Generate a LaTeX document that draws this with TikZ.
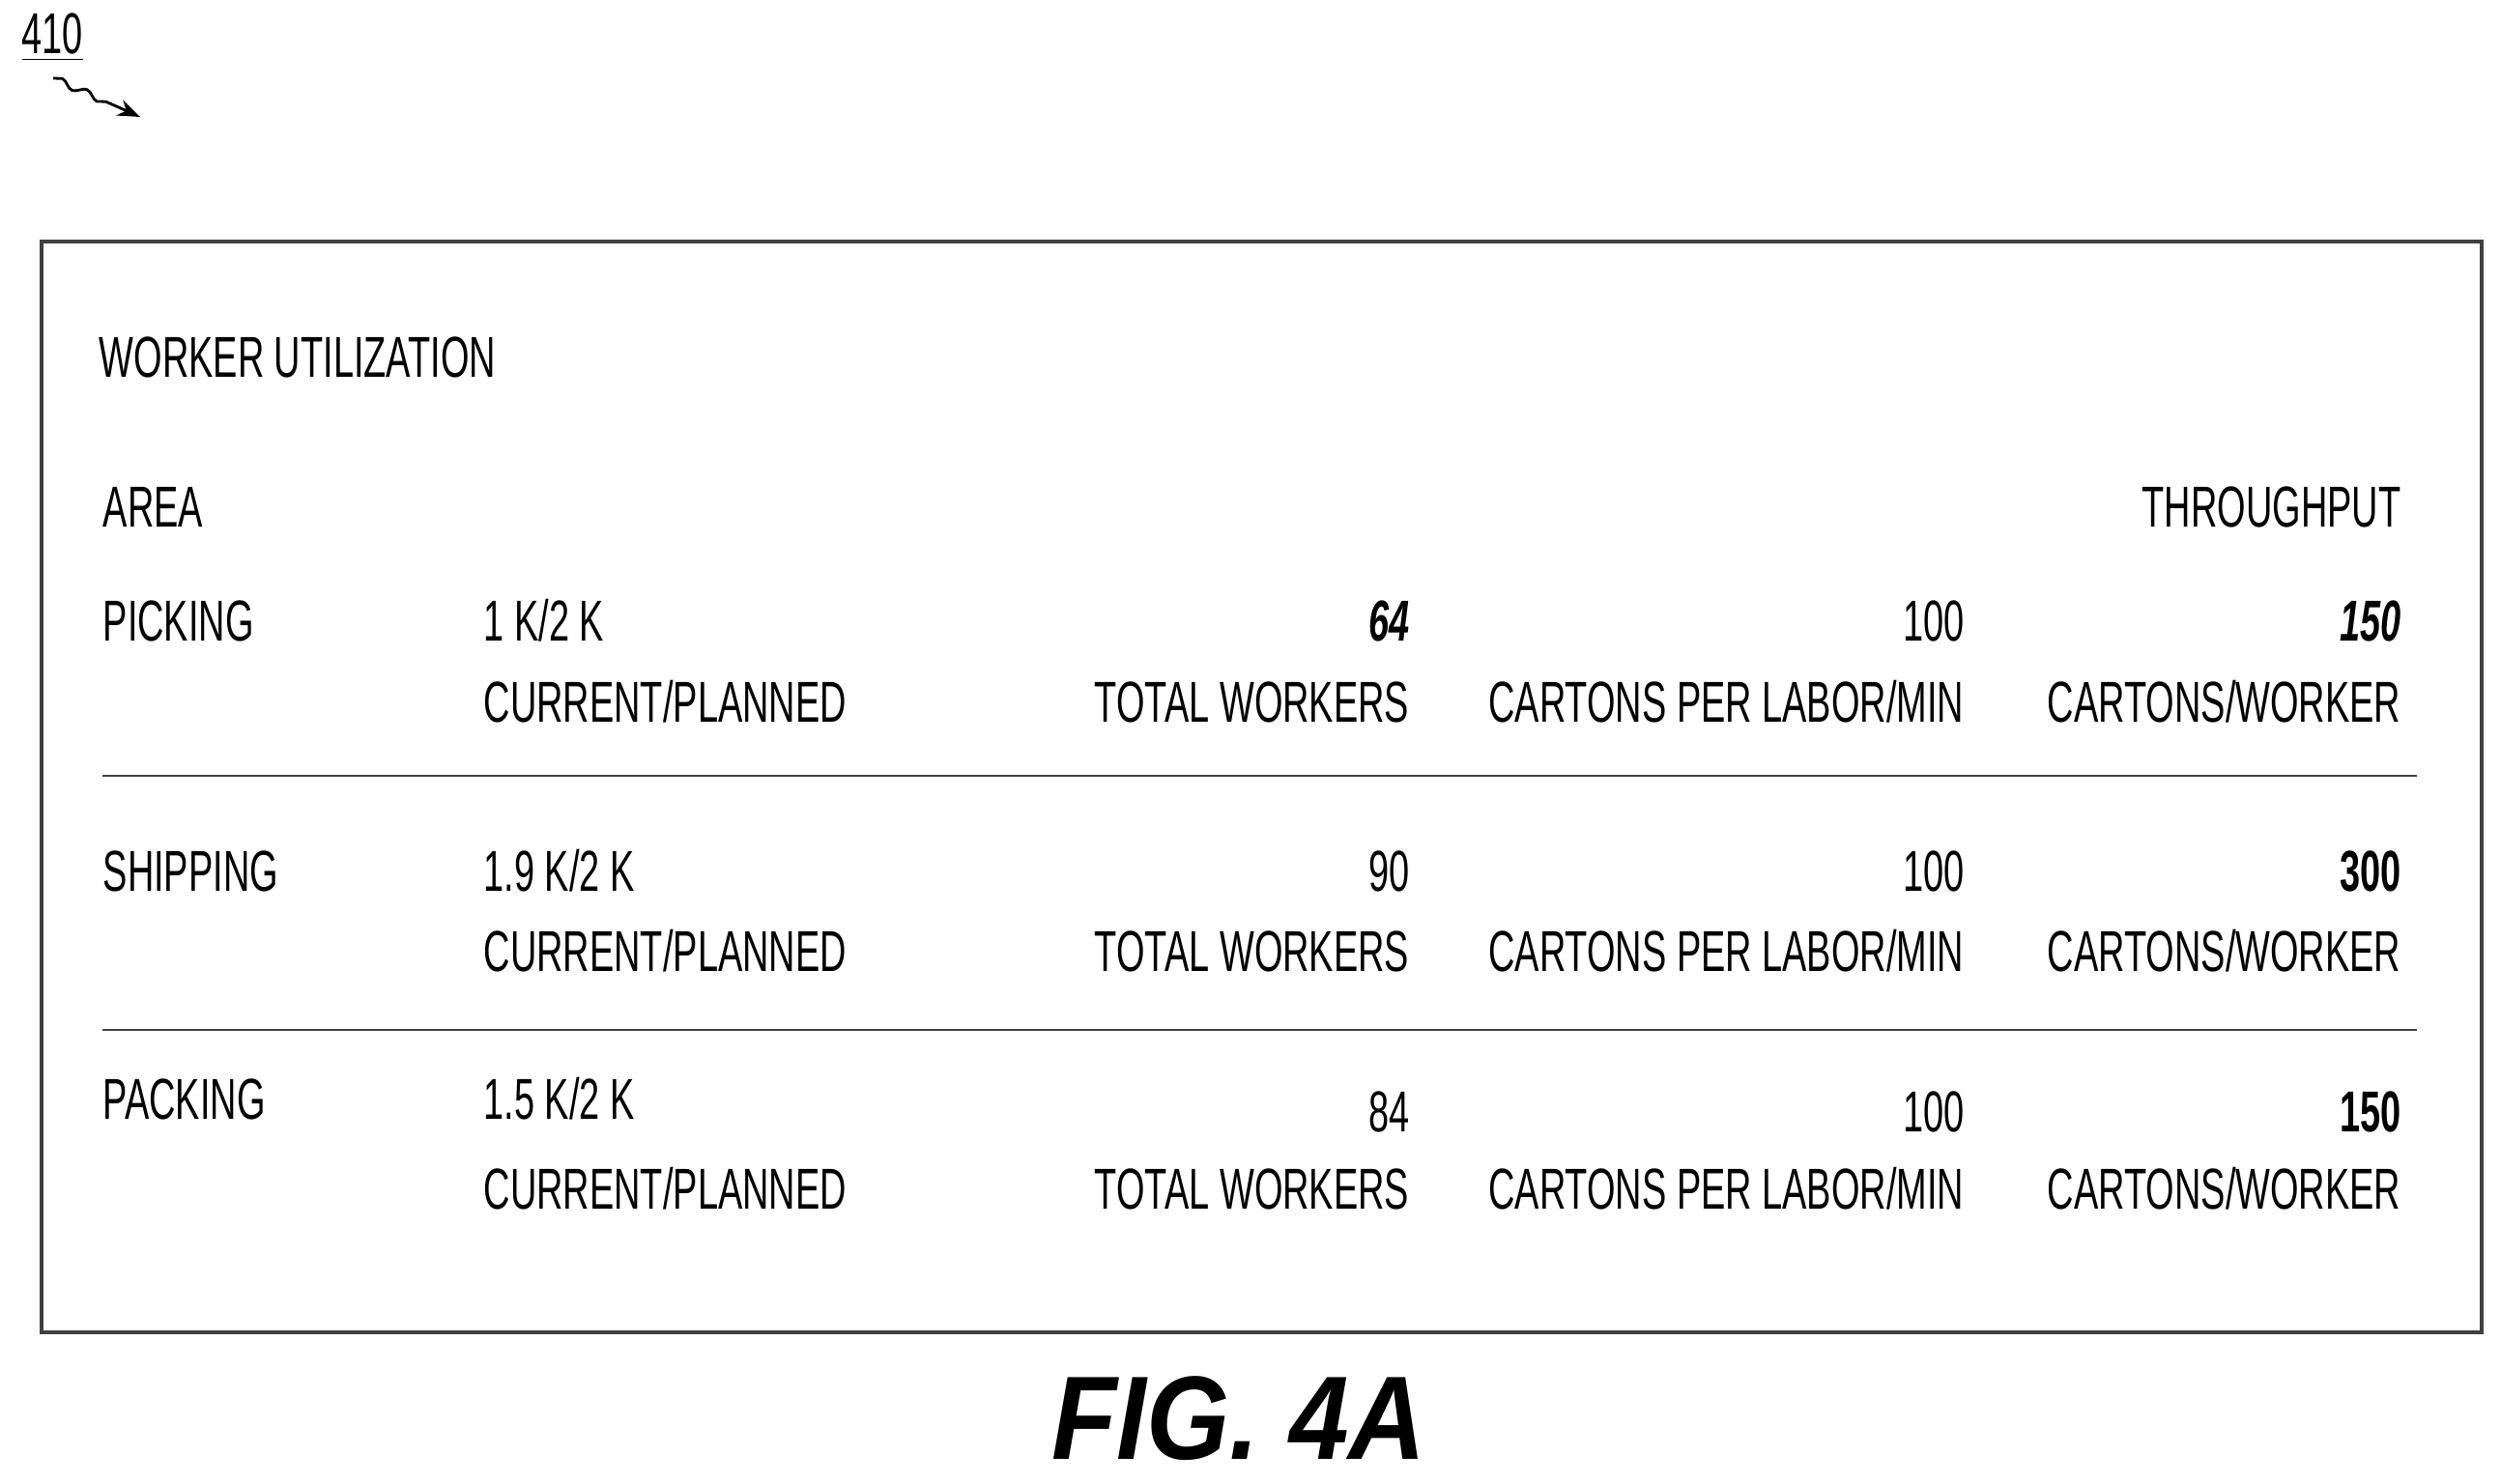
\documentclass[tikz,border=0pt]{standalone}
\usepackage{fontspec}
\setmainfont{Liberation Sans}[FakeStretch=0.635]
\newfontfamily\figfont{Liberation Sans}[FakeStretch=0.9]
\usetikzlibrary{positioning, decorations.pathmorphing, arrows.meta}
\tikzstyle{txt} = [inner sep=0pt, font=\fontsize{17}{20}\selectfont, anchor=base west]
\tikzstyle{num} = [inner sep=0pt, font=\fontsize{17}{20}\selectfont, anchor=base east]
\tikzstyle{rule} = [line width=0.8pt, draw=black!75]
\begin{document}
\begin{tikzpicture}
    \useasboundingbox (0,0) rectangle (25.88,15.36);
    \node (ref) [txt] at (0.22,14.8) {\underline{410}};
    \coordinate (tip) at (1.45,14.15);
    \draw [thick, ->, >=Stealth, decorate, decoration={snake, amplitude=1pt, segment length=8pt, post length=3mm}] (0.55,14.55) -- (tip);
    \node (frame) [draw=black!75, line width=1pt, minimum width=25.25cm, minimum height=11.29cm, anchor=south west] at (0.41,1.55) {};
    \node (title) [txt] at (1.02,11.45) {WORKER UTILIZATION};
    \node (area) [txt] at (1.06,9.9) {AREA};
    \node (thru) [num] at (24.85,9.9) {THROUGHPUT};
    % rows
    \foreach \nm/\cur/\tot/\cpw/\ya/\yb/\yc in {PICKING/{1 K/2 K}/{\textbf{\textit{64}}}/{\textbf{\textit{150}}}/8.72/8.72/7.88,
        SHIPPING/{1.9 K/2 K}/90/{\textbf{300}}/6.13/6.13/5.30,
        PACKING/{1.5 K/2 K}/84/{\textbf{150}}/3.77/3.64/2.84} {
        \node [txt] at (1.06,\ya) {\nm};
        \node [txt] at (5.0,\ya) {\cur};
        \node [num] at (14.59,\yb) {\tot};
        \node [num] at (20.33,\yb) {100};
        \node [num] at (24.85,\yb) {\cpw};
        \node [txt] at (5.0,\yc) {CURRENT/PLANNED};
        \node [num] at (14.59,\yc) {TOTAL WORKERS};
        \node [num] at (20.33,\yc) {CARTONS PER LABOR/MIN};
        \node [num] at (24.85,\yc) {CARTONS/WORKER};
    }
    \coordinate (l1a) at (1.06,7.33); \coordinate (l1b) at (25.01,7.33);
    \coordinate (l2a) at (1.06,4.70); \coordinate (l2b) at (25.01,4.70);
    \draw [rule] (l1a) -- (l1b);
    \draw [rule] (l2a) -- (l2b);
    \node (fig) [inner sep=0pt, font=\figfont\fontsize{35}{40}\selectfont\bfseries\itshape] at (12.82,0.68) {FIG. 4A};
\end{tikzpicture}
\end{document}
